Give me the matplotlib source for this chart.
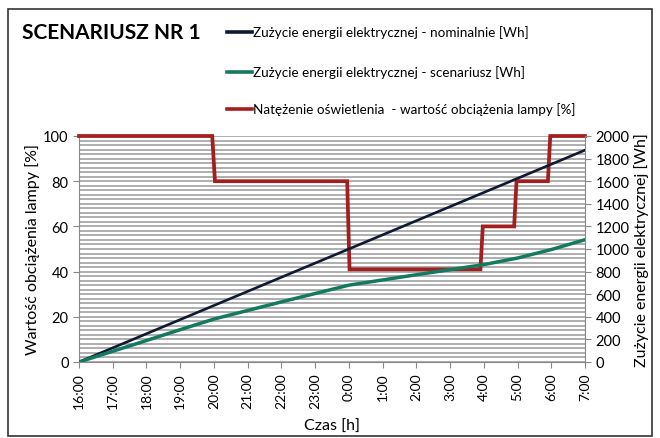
import numpy as np
import matplotlib.pyplot as plt
from matplotlib.patches import Rectangle

plt.rcParams['font.family'] = ['Lato', 'DejaVu Sans']

# Hours since 16:00
hours = list(range(16))
hour_labels = ["16:00", "17:00", "18:00", "19:00", "20:00", "21:00", "22:00", "23:00",
               "0:00", "1:00", "2:00", "3:00", "4:00", "5:00", "6:00", "7:00"]

# Energy use - nominal [Wh]
nominal = [0, 125, 250, 375, 500, 625, 750, 875, 1000, 1125, 1250, 1375, 1500, 1625, 1750, 1875]
# Energy use - scenario [Wh]
scenario = [0, 95, 190, 286, 380, 456, 532, 606, 680, 726, 772, 817, 862, 920, 995, 1082]

# Lamp load [%] (step profile)
load_t = [0, 3.95, 4.03, 7.95, 8.02, 11.9, 11.97, 12.9, 12.97, 13.9, 13.97, 15]
load_v = [100, 100, 80, 80, 41, 41, 60, 60, 80, 80, 100, 100]

navy = '#0e1a33'
green = '#137a5f'
red = '#a31f1f'
grey = '#888888'

fig = plt.figure(figsize=(6.6, 4.39), dpi=100)
ax = fig.add_axes([79/660, 1-363/439, (585-79)/660, (363-137)/439])
ax2 = ax.twinx()

ax.set_xlim(0, 15)
ax.set_ylim(0, 100)
ax2.set_ylim(0, 2000)

# dense horizontal grid
for g in np.arange(0, 101, 2):
    ax.axhline(g, color='#999999', lw=1.1, zorder=0)

ax.plot(load_t, load_v, color=red, lw=2.7, solid_joinstyle='miter', zorder=3, clip_on=False)
ax2.plot(hours, nominal, color=navy, lw=1.9, zorder=3)
ax2.plot(hours, scenario, color=green, lw=2.5, zorder=3)

ax.set_xticks(hours)
ax.set_xticklabels(hour_labels, rotation=90, fontsize=10)
ax.set_yticks(range(0, 101, 20))
ax.tick_params(axis='y', labelsize=10.5, length=4, color=grey)
ax.tick_params(axis='x', length=4, color=grey)
ax2.set_yticks(range(0, 2001, 200))
ax2.tick_params(axis='y', labelsize=10.5, length=4, color=grey)

for a in (ax, ax2):
    for s in a.spines.values():
        s.set_visible(False)
ax.spines['left'].set_visible(True)
ax.spines['left'].set_color(grey)
ax.spines['bottom'].set_visible(True)
ax.spines['bottom'].set_color(grey)
ax2.spines['right'].set_visible(True)
ax2.spines['right'].set_color(grey)

ax.set_ylabel("Wartość obciążenia lampy [%]", fontsize=11.5, labelpad=2)
ax2.set_ylabel("Zużycie energii elektrycznej [Wh]", fontsize=11.5, labelpad=3)
ax.set_xlabel("Czas [h]", fontsize=11.5, labelpad=8)

# title and legend
fig.text(22/660, 1-33/439, "SCENARIUSZ NR 1", fontsize=15, fontweight='bold', va='center')
legend_items = [("Zużycie energii elektrycznej - nominalnie [Wh]", navy, 33),
                ("Zużycie energii elektrycznej - scenariusz [Wh]", green, 73),
                ("Natężenie oświetlenia  - wartość obciążenia lampy [%]", red, 110)]
for label, col, ypix in legend_items:
    y = 1 - ypix/439
    fig.add_artist(plt.Line2D([227/660, 252/660], [y, y], color=col, lw=2.6))
    fig.text(253/660, y, label, fontsize=9.7, va='center')

# outer frame
fig.add_artist(Rectangle((8/660, 2/439), 644/660, 427/439, transform=fig.transFigure,
                         fill=False, edgecolor='#333333', lw=1.2))

fig.savefig("out.png", dpi=100)
